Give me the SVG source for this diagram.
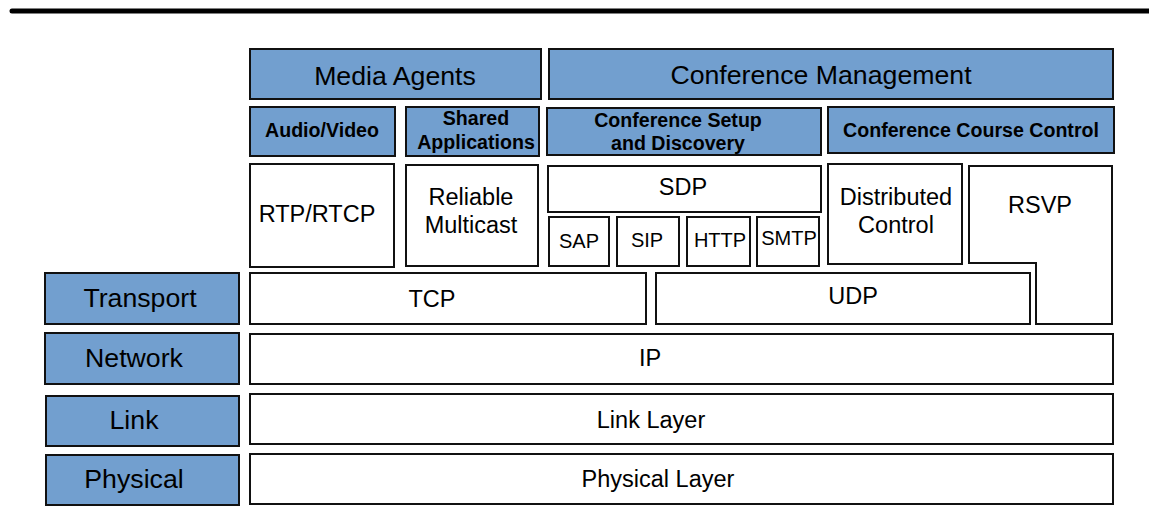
<svg xmlns="http://www.w3.org/2000/svg" width="1149" height="506" viewBox="0 0 1149 506">
<style>
.b{fill:#729FCF;stroke:#111;stroke-width:2}
.w{fill:#fff;stroke:#111;stroke-width:2}
text{font-family:"Liberation Sans",Arial,sans-serif;fill:#000;text-anchor:middle}
.h{font-size:26.7px}
.s{font-size:19.6px;font-weight:bold}
.m{font-size:23.5px}
.n{font-size:20px}
</style>
<rect width="1149" height="506" fill="#fff"/>
<line x1="12" y1="11" x2="1149" y2="11" stroke="#000" stroke-width="5" stroke-linecap="round"/>
<g id="media-agents"><rect class="b" x="250" y="49" width="291" height="50"/><text class="h" x="395" y="85">Media Agents</text></g>
<g id="conference-management"><rect class="b" x="549" y="49" width="564" height="50"/><text class="h" x="821" y="84">Conference Management</text></g>
<g id="audio-video"><rect class="b" x="250" y="107" width="145" height="49"/><text class="s" x="322" y="137">Audio/Video</text></g>
<g id="shared-applications"><rect class="b" x="406" y="107" width="133" height="49"/><text class="s" x="476" y="125">Shared</text><text class="s" x="476" y="149">Applications</text></g>
<g id="conference-setup"><rect class="b" x="547" y="108" width="274" height="47"/><text class="s" x="678" y="127">Conference Setup</text><text class="s" x="678" y="150">and Discovery</text></g>
<g id="conference-course-control"><rect class="b" x="828" y="107" width="286" height="46"/><text class="s" x="971" y="137">Conference Course Control</text></g>
<g id="rtp-rtcp"><rect class="w" x="250" y="164" width="144" height="103"/><text class="m" x="317" y="222">RTP/RTCP</text></g>
<g id="reliable-multicast"><rect class="w" x="406" y="165" width="132" height="101"/><text class="m" x="471" y="205">Reliable</text><text class="m" x="471" y="233">Multicast</text></g>
<g id="sdp"><rect class="w" x="548" y="166" width="273" height="46"/><text class="m" x="683" y="195">SDP</text></g>
<g id="sap"><rect class="w" x="549" y="217" width="60" height="49"/><text class="n" x="579" y="248">SAP</text></g>
<g id="sip"><rect class="w" x="617" y="217" width="62" height="49"/><text class="n" x="647" y="247">SIP</text></g>
<g id="http"><rect class="w" x="687" y="217" width="63" height="49"/><text class="n" x="720" y="247">HTTP</text></g>
<g id="smtp"><rect class="w" x="757" y="217" width="62" height="49"/><text class="n" x="789" y="245">SMTP</text></g>
<g id="distributed-control"><rect class="w" x="828" y="164" width="134" height="100"/><text class="m" x="896" y="205">Distributed</text><text class="m" x="896" y="233">Control</text></g>
<g id="rsvp"><path class="w" d="M969,166 H1112 V324 H1036 V263 H969 Z"/><text class="m" x="1040" y="213">RSVP</text></g>
<g id="tcp"><rect class="w" x="250" y="273" width="396" height="51"/><text class="m" x="432" y="307">TCP</text></g>
<g id="udp"><rect class="w" x="656" y="273" width="374" height="51"/><text class="m" x="853" y="304">UDP</text></g>
<g id="transport"><rect class="b" x="45" y="273" width="194" height="51"/><text class="h" x="140" y="307">Transport</text></g>
<g id="ip"><rect class="w" x="250" y="334" width="863" height="50"/><text class="m" x="650" y="366">IP</text></g>
<g id="network"><rect class="b" x="45" y="333" width="194" height="51"/><text class="h" x="134" y="367">Network</text></g>
<g id="link-layer"><rect class="w" x="250" y="394" width="863" height="50"/><text class="m" x="651" y="428">Link Layer</text></g>
<g id="link"><rect class="b" x="46" y="396" width="193" height="50"/><text class="h" x="134" y="429">Link</text></g>
<g id="physical-layer"><rect class="w" x="250" y="454" width="863" height="50"/><text class="m" x="658" y="487">Physical Layer</text></g>
<g id="physical"><rect class="b" x="46" y="455" width="193" height="50"/><text class="h" x="134" y="488">Physical</text></g>
<g id="connectors"></g>
</svg>
